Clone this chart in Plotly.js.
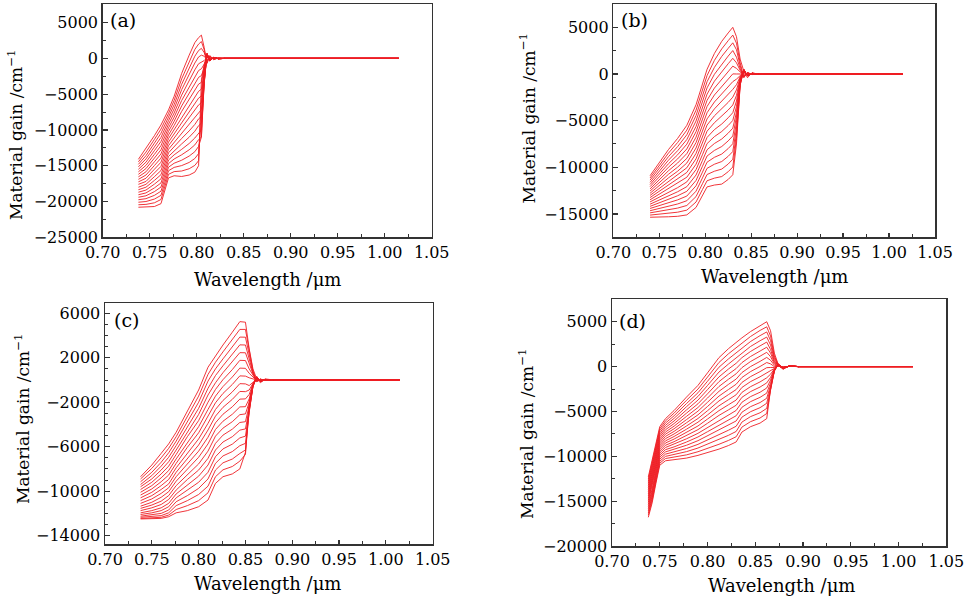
<!DOCTYPE html>
<html>
<head>
<meta charset="utf-8">
<script src="https://cdn.plot.ly/plotly-3.0.1.min.js"></script>
<style>html,body{margin:0;padding:0;background:#fff;}#chart{width:972px;height:602px;}</style>
</head>
<body>
<div id="chart"></div>
<script>
// Panel (a): wavelengths (um) and gain (cm^-1); each row = one wavelength, columns = 20 curves (low -> high carrier density)
const wavelengthA = [0.738, 0.746, 0.755, 0.762, 0.770, 0.776, 0.784, 0.792, 0.798, 0.802, 0.805, 0.808, 0.811, 0.814, 0.818, 0.823, 0.830, 1.015];
const gainA = [
  [-20800,-20450,-20100,-19750,-19400,-19050,-18700,-18350,-18000,-17600,-17250,-16900,-16550,-16200,-15850,-15500,-15150,-14800,-14450,-14100],
  [-20800,-20400,-20000,-19600,-19200,-18800,-18400,-18000,-17600,-17200,-16750,-16300,-15850,-15400,-14950,-14500,-14050,-13600,-13100,-12600],
  [-20700,-20180,-19660,-19140,-18620,-18100,-17570,-17050,-16530,-16010,-15490,-14970,-14450,-13930,-13410,-12890,-12370,-11840,-11320,-10800],
  [-20300,-19720,-19140,-18560,-17980,-17410,-16830,-16250,-15670,-15090,-14510,-13930,-13350,-12770,-12190,-11610,-11040,-10460,-9880,-9300],
  [-16700,-16200,-15700,-15200,-14700,-14200,-13700,-13200,-12700,-12200,-11700,-11200,-10700,-10200,-9700,-9200,-8700,-8200,-7700,-7200],
  [-16400,-15820,-15230,-14650,-14060,-13480,-12890,-12310,-11730,-11140,-10560,-9970,-9390,-8800,-8220,-7640,-7050,-6470,-5880,-5300],
  [-16500,-15740,-14980,-14230,-13470,-12710,-11950,-11190,-10440,-9680,-8920,-8160,-7410,-6650,-5890,-5130,-4370,-3620,-2860,-2100],
  [-16300,-15420,-14540,-13650,-12770,-11890,-11010,-10130,-9250,-8360,-7480,-6600,-5720,-4840,-3960,-3070,-2190,-1310,-430,450],
  [-15900,-14950,-13990,-13040,-12090,-11130,-10180,-9230,-8280,-7320,-6370,-5420,-4460,-3510,-2560,-1600,-650,300,1250,2200],
  [-15000,-14300,-13300,-12300,-11350,-10400,-9400,-8450,-7500,-6500,-5550,-4600,-3600,-2650,-1700,-750,200,1100,2000,2900],
  [-3000,-5500,-8500,-11000,-11000,-10000,-9050,-8100,-7150,-6200,-5250,-4300,-3350,-2400,-1450,-500,450,1400,2350,3250],
  [-800,-1200,-1800,-2500,-3300,-3500,-3400,-3200,-3000,-2700,-2400,-2100,-1700,-1300,-800,-300,300,800,1200,1500],
  [300,400,500,600,700,700,700,650,600,550,500,450,400,300,200,100,-200,-400,-600,-700],
  [-150,-200,-250,-300,-350,-350,-350,-320,-300,-280,-250,-220,-200,-150,-100,-50,100,200,300,400],
  [60,80,100,120,140,140,140,130,120,110,100,90,80,60,40,20,-40,-80,-120,-200],
  [-20,-30,-40,-50,-50,-50,-50,-50,-50,-40,-40,-30,-30,-20,-20,-10,20,30,50,80],
  [0,0,0,0,0,0,0,0,0,0,0,0,0,0,0,0,0,0,0,0],
  [0,0,0,0,0,0,0,0,0,0,0,0,0,0,0,0,0,0,0,0]
];

// Panel (b)
const wavelengthB = [0.740, 0.750, 0.760, 0.770, 0.780, 0.790, 0.797, 0.802, 0.810, 0.818, 0.825, 0.830, 0.834, 0.838, 0.842, 0.846, 0.851, 0.858, 0.870, 1.015];
const gainB = [
  [-15350,-15120,-14880,-14650,-14410,-14180,-13950,-13710,-13480,-13240,-13010,-12780,-12540,-12310,-12070,-11840,-11610,-11370,-11140,-10900],
  [-15350,-15040,-14730,-14430,-14120,-13810,-13500,-13190,-12880,-12580,-12270,-11960,-11650,-11340,-11030,-10730,-10420,-10110,-9800,-9500],
  [-15300,-14920,-14540,-14160,-13780,-13410,-13030,-12650,-12270,-11890,-11510,-11130,-10750,-10370,-9990,-9620,-9240,-8860,-8480,-8100],
  [-15250,-14810,-14370,-13930,-13490,-13050,-12620,-12180,-11740,-11300,-10860,-10420,-9980,-9540,-9100,-8660,-8220,-7780,-7340,-6900],
  [-15100,-14590,-14090,-13580,-13080,-12570,-12070,-11560,-11060,-10550,-10050,-9540,-9040,-8530,-8030,-7520,-7020,-6510,-6010,-5500],
  [-14300,-13720,-13140,-12560,-11980,-11410,-10830,-10250,-9670,-9090,-8510,-7930,-7350,-6770,-6190,-5620,-5040,-4460,-3880,-3300],
  [-13000,-12380,-11760,-11140,-10520,-9890,-9270,-8650,-8030,-7410,-6790,-6170,-5550,-4930,-4310,-3680,-3060,-2440,-1820,-1200],
  [-12100,-11440,-10770,-10110,-9450,-8790,-8120,-7460,-6800,-6130,-5470,-4810,-4150,-3480,-2820,-2160,-1490,-830,-170,500],
  [-11900,-11160,-10420,-9670,-8930,-8190,-7450,-6710,-5960,-5220,-4480,-3740,-3000,-2250,-1510,-770,-30,710,1460,2200],
  [-11800,-10990,-10190,-9380,-8580,-7770,-6970,-6160,-5360,-4550,-3750,-2940,-2140,-1330,-530,280,1080,1890,2690,3500],
  [-11300,-10470,-9650,-8820,-7990,-7170,-6340,-5520,-4690,-3860,-3040,-2210,-1380,-560,270,1100,1920,2750,3570,4400],
  [-10800,-9970,-9140,-8310,-7470,-6640,-5810,-4980,-4150,-3320,-2480,-1650,-820,10,840,1680,2510,3340,4170,5000],
  [-7500,-6900,-6400,-5800,-5200,-4600,-4100,-3500,-2900,-2300,-1700,-1150,-550,0,600,1200,1800,2600,3300,4000],
  [-1200,-1200,-1100,-1000,-950,-900,-800,-700,-600,-500,-400,-300,-200,0,200,400,600,900,1200,1600],
  [500,500,480,460,440,420,400,380,350,320,290,250,200,50,-150,-250,-350,-400,-300,300],
  [-200,-200,-190,-180,-170,-160,-150,-140,-130,-120,-110,-100,-80,-20,60,100,140,160,150,-400],
  [80,80,75,70,65,60,55,50,45,40,35,30,25,10,-20,-40,-50,-60,-60,150],
  [-30,-30,-30,-25,-25,-20,-20,-15,-15,-10,-10,-10,-10,0,10,15,20,20,20,-50],
  [0,0,0,0,0,0,0,0,0,0,0,0,0,0,0,0,0,0,0,0],
  [0,0,0,0,0,0,0,0,0,0,0,0,0,0,0,0,0,0,0,0]
];

// Panel (c)
const wavelengthC = [0.738, 0.750, 0.760, 0.768, 0.776, 0.788, 0.800, 0.810, 0.818, 0.826, 0.836, 0.844, 0.850, 0.854, 0.858, 0.862, 0.866, 0.871, 0.880, 1.015];
const gainC = [
  [-12500,-12450,-12350,-12250,-12100,-11950,-11750,-11550,-11350,-11100,-10850,-10600,-10350,-10100,-9850,-9600,-9400,-9150,-8900,-8700],
  [-12500,-12430,-12300,-12150,-11950,-11750,-11500,-11250,-11000,-10700,-10400,-10100,-9800,-9500,-9200,-8900,-8600,-8300,-7950,-7650],
  [-12450,-12350,-12200,-12000,-11750,-11500,-11200,-10900,-10550,-10200,-9850,-9500,-9150,-8800,-8450,-8100,-7750,-7400,-7000,-6600],
  [-12300,-12150,-11950,-11700,-11400,-11100,-10750,-10400,-10050,-9700,-9350,-8950,-8550,-8150,-7750,-7350,-6950,-6550,-6150,-5750],
  [-11950,-11650,-11300,-10950,-10600,-10250,-9900,-9500,-9100,-8700,-8300,-7900,-7500,-7100,-6700,-6300,-5900,-5500,-5100,-4700],
  [-11750,-11300,-10850,-10400,-9900,-9450,-8950,-8500,-8000,-7500,-7050,-6550,-6050,-5600,-5100,-4650,-4200,-3700,-3250,-2800],
  [-11400,-10850,-10300,-9750,-9200,-8650,-8100,-7550,-6950,-6400,-5850,-5300,-4750,-4200,-3650,-3100,-2550,-2000,-1450,-900],
  [-10800,-10150,-9550,-8900,-8300,-7650,-7050,-6400,-5750,-5150,-4500,-3900,-3250,-2650,-2000,-1350,-750,-100,500,1150],
  [-9300,-8700,-8100,-7500,-6900,-6300,-5700,-5050,-4450,-3850,-3250,-2650,-2050,-1450,-850,-250,400,1000,1600,2200],
  [-8700,-8080,-7450,-6830,-6200,-5580,-4960,-4330,-3710,-3080,-2460,-1840,-1210,-590,30,660,1280,1900,2530,3150],
  [-8450,-7780,-7110,-6440,-5770,-5100,-4420,-3750,-3080,-2410,-1740,-1070,-400,270,940,1620,2290,2960,3630,4300],
  [-8000,-7300,-6610,-5910,-5210,-4510,-3820,-3120,-2420,-1720,-1030,-330,370,1070,1770,2460,3160,3860,4550,5250],
  [-6500,-6700,-6300,-5700,-5050,-4400,-3750,-3050,-2400,-1700,-1050,-350,350,1050,1750,2450,3150,3850,4550,5200],
  [-2000,-2500,-2800,-2900,-2800,-2600,-2300,-2000,-1700,-1300,-900,-500,200,600,1000,1400,1800,2200,2500,2800],
  [-400,-500,-550,-600,-600,-550,-500,-450,-400,-350,-300,-200,100,300,450,550,650,750,850,1000],
  [300,300,300,280,260,240,220,200,180,150,120,80,0,-50,-80,-100,-120,-150,-100,100],
  [-150,-150,-150,-140,-130,-120,-110,-100,-90,-80,-60,-40,0,30,50,60,70,80,60,-250],
  [50,50,50,45,45,40,40,35,30,25,20,15,0,-10,-20,-25,-30,-30,-25,100],
  [0,0,0,0,0,0,0,0,0,0,0,0,0,0,0,0,0,0,0,0],
  [0,0,0,0,0,0,0,0,0,0,0,0,0,0,0,0,0,0,0,0]
];

// Panel (d)
const wavelengthD = [0.738, 0.742, 0.746, 0.750, 0.756, 0.765, 0.778, 0.790, 0.800, 0.812, 0.822, 0.830, 0.836, 0.845, 0.855, 0.862, 0.866, 0.870, 0.874, 0.879, 0.886, 0.895, 1.015];
const gainD = [
  [-16800,-16560,-16330,-16090,-15850,-15620,-15380,-15140,-14910,-14670,-14430,-14200,-13960,-13720,-13490,-13250,-13010,-12780,-12540,-12300],
  [-15200,-14940,-14680,-14430,-14170,-13910,-13650,-13390,-13140,-12880,-12620,-12360,-12100,-11840,-11590,-11330,-11070,-10810,-10560,-10300],
  [-13000,-12760,-12520,-12270,-12030,-11790,-11550,-11300,-11060,-10820,-10580,-10340,-10090,-9850,-9610,-9370,-9130,-8880,-8640,-8400],
  [-11000,-10770,-10550,-10320,-10090,-9870,-9640,-9420,-9190,-8960,-8740,-8510,-8280,-8060,-7830,-7610,-7380,-7150,-6930,-6700],
  [-10500,-10250,-10010,-9760,-9510,-9260,-9020,-8770,-8520,-8280,-8030,-7780,-7530,-7290,-7040,-6790,-6550,-6300,-6050,-5800],
  [-10400,-10110,-9820,-9530,-9240,-8950,-8660,-8370,-8080,-7790,-7510,-7220,-6930,-6640,-6350,-6060,-5770,-5480,-5190,-4900],
  [-10200,-9840,-9480,-9130,-8770,-8410,-8050,-7690,-7340,-6980,-6620,-6260,-5910,-5550,-5190,-4830,-4470,-4120,-3760,-3400],
  [-9900,-9490,-9080,-8670,-8260,-7850,-7440,-7030,-6620,-6200,-5790,-5380,-4970,-4560,-4150,-3740,-3330,-2920,-2510,-2100],
  [-9600,-9130,-8660,-8190,-7730,-7260,-6790,-6320,-5850,-5390,-4920,-4450,-3980,-3510,-3040,-2570,-2110,-1640,-1170,-700],
  [-9200,-8660,-8130,-7590,-7050,-6520,-5980,-5440,-4910,-4370,-3830,-3290,-2760,-2220,-1680,-1150,-610,-70,460,1000],
  [-8800,-8230,-7660,-7090,-6530,-5960,-5390,-4820,-4250,-3690,-3120,-2550,-1980,-1410,-840,-270,290,860,1430,2000],
  [-8400,-7820,-7230,-6650,-6060,-5480,-4890,-4310,-3730,-3140,-2560,-1970,-1390,-800,-220,370,950,1530,2120,2700],
  [-7300,-6750,-6190,-5640,-5090,-4540,-3980,-3430,-2880,-2330,-1770,-1220,-670,-120,440,990,1540,2090,2650,3200],
  [-6700,-6140,-5580,-5030,-4470,-3910,-3350,-2790,-2240,-1680,-1120,-560,0,560,1120,1680,2240,2790,3350,3900],
  [-6300,-5730,-5150,-4580,-4010,-3430,-2860,-2280,-1710,-1140,-560,10,580,1160,1730,2310,2880,3450,4030,4600],
  [-5800,-5230,-4660,-4090,-3530,-2960,-2390,-1820,-1250,-690,-120,450,1020,1590,2160,2730,3290,3860,4430,5000],
  [-2500,-2600,-2500,-2300,-2100,-1800,-1500,-1200,-850,-500,-100,300,700,1100,1500,1900,2400,2900,3400,4000],
  [-400,-450,-500,-500,-450,-400,-350,-300,-250,-200,-100,0,150,300,450,600,800,1000,1200,1500],
  [300,300,280,260,240,220,200,180,150,120,80,50,80,100,120,140,160,180,200,250],
  [-150,-150,-140,-130,-120,-110,-100,-90,-80,-60,-40,-100,-120,-150,-180,-200,-220,-250,-280,-300],
  [60,60,55,50,50,45,40,35,30,25,20,40,50,60,70,80,90,100,110,120],
  [0,0,0,0,0,0,0,0,0,0,0,0,0,0,0,0,0,0,0,0],
  [0,0,0,0,0,0,0,0,0,0,0,0,0,0,0,0,0,0,0,0]
];

// Tick values
const xTickVals = [0.70, 0.75, 0.80, 0.85, 0.90, 0.95, 1.00, 1.05];
const yTickValsA = [-25000, -20000, -15000, -10000, -5000, 0, 5000];
const yTickValsB = [-15000, -10000, -5000, 0, 5000];
const yTickValsC = [-14000, -10000, -6000, -2000, 2000, 6000];
const yTickValsD = [-20000, -15000, -10000, -5000, 0, 5000];

const panelLabels = ['(a)', '(b)', '(c)', '(d)'];
const xTitle = 'Wavelength /\u03bcm';
const yTitle = 'Material gain /cm<sup>\u22121</sup>';

const FONT = 'DejaVu Serif, Liberation Serif, serif';
const LINE_COLOR = 'rgb(238,30,36)';

const panels = [
  {lam: wavelengthA, gain: gainA, xa: 'x', ya: 'y'},
  {lam: wavelengthB, gain: gainB, xa: 'x2', ya: 'y2'},
  {lam: wavelengthC, gain: gainC, xa: 'x3', ya: 'y3'},
  {lam: wavelengthD, gain: gainD, xa: 'x4', ya: 'y4'}
];

const traces = [];
panels.forEach(p => {
  const nCurves = p.gain[0].length;
  for (let c = 0; c < nCurves; c++) {
    traces.push({
      type: 'scatter', mode: 'lines',
      x: p.lam, y: p.gain.map(row => row[c]),
      xaxis: p.xa, yaxis: p.ya,
      line: {color: LINE_COLOR, width: 0.9},
      hoverinfo: 'skip', showlegend: false
    });
  }
});

const fmtY = v => (v < 0 ? '\u2212' + Math.abs(v) : String(v));
const tickFont = {family: FONT, size: 16, color: '#000'};

function xAxis(domain, anchor) {
  return {
    domain: domain, anchor: anchor, range: [0.70, 1.05],
    tickmode: 'array', tickvals: xTickVals, ticktext: xTickVals.map(v => v.toFixed(2)),
    ticks: 'inside', ticklen: 4, tickwidth: 1.2, tickcolor: '#333',
    minor: {tickmode: 'linear', tick0: 0.70, dtick: 0.025, ticks: 'inside', ticklen: 3, tickwidth: 1, tickcolor: '#333', showgrid: false},
    showline: true, linecolor: '#333', linewidth: 1.5, mirror: true,
    showgrid: false, zeroline: false, fixedrange: true,
    tickfont: tickFont
  };
}
function yAxis(domain, anchor, range, tickVals, minorDtick) {
  return {
    domain: domain, anchor: anchor, range: range,
    tickmode: 'array', tickvals: tickVals, ticktext: tickVals.map(fmtY),
    ticks: 'inside', ticklen: 5, tickwidth: 1.2, tickcolor: '#333',
    minor: {tickmode: 'linear', tick0: 0, dtick: minorDtick, ticks: 'inside', ticklen: 3, tickwidth: 1, tickcolor: '#333', showgrid: false},
    showline: true, linecolor: '#333', linewidth: 1.5, mirror: true,
    showgrid: false, zeroline: false, fixedrange: true,
    tickfont: tickFont
  };
}

const W = 972, H = 602;
const px = v => v / W, py = v => 1 - v / H;

const layout = {
  width: W, height: H,
  margin: {l: 0, r: 0, t: 0, b: 0},
  paper_bgcolor: '#fff', plot_bgcolor: '#fff',
  showlegend: false,
  xaxis:  xAxis([px(102.7), px(431.7)], 'y'),
  yaxis:  yAxis([py(237.3), py(4)], 'x', [-25000, 7600], yTickValsA, 2500),
  xaxis2: xAxis([px(613.3), px(935)], 'y2'),
  yaxis2: yAxis([py(237.3), py(4)], 'x2', [-17500, 7500], yTickValsB, 2500),
  xaxis3: xAxis([px(105), px(432.7)], 'y3'),
  yaxis3: yAxis([py(544.3), py(303.3)], 'x3', [-14780, 6900], yTickValsC, 1000),
  xaxis4: xAxis([px(612), px(946.3)], 'y4'),
  yaxis4: yAxis([py(546), py(299.3)], 'x4', [-20000, 7500], yTickValsD, 2500),
  annotations: []
};

const xTitleFont = {family: FONT, size: 18, color: '#000'};
const yTitleFont = {family: FONT, size: 17, color: '#000'};
const labelFont = {family: FONT, size: 19, color: '#000'};
// x titles
[[267.5, 279], [774.3, 276], [267.5, 583], [781, 585]].forEach(([x, y]) => {
  layout.annotations.push({text: xTitle, xref: 'paper', yref: 'paper', x: px(x), y: py(y), xanchor: 'center', yanchor: 'middle', showarrow: false, font: xTitleFont});
});
// y titles
[[15, 135], [527.5, 118], [22, 419], [526, 434]].forEach(([x, y]) => {
  layout.annotations.push({text: yTitle, xref: 'paper', yref: 'paper', x: px(x), y: py(y), xanchor: 'center', yanchor: 'middle', textangle: -90, showarrow: false, font: yTitleFont});
});
// panel labels
[[123.5, 20], [634.5, 20], [126.7, 320], [632, 320.5]].forEach(([x, y], i) => {
  layout.annotations.push({text: panelLabels[i], xref: 'paper', yref: 'paper', x: px(x), y: py(y), xanchor: 'center', yanchor: 'middle', showarrow: false, font: labelFont});
});

Plotly.newPlot('chart', traces, layout, {staticPlot: true, displayModeBar: false});
</script>
</body>
</html>
